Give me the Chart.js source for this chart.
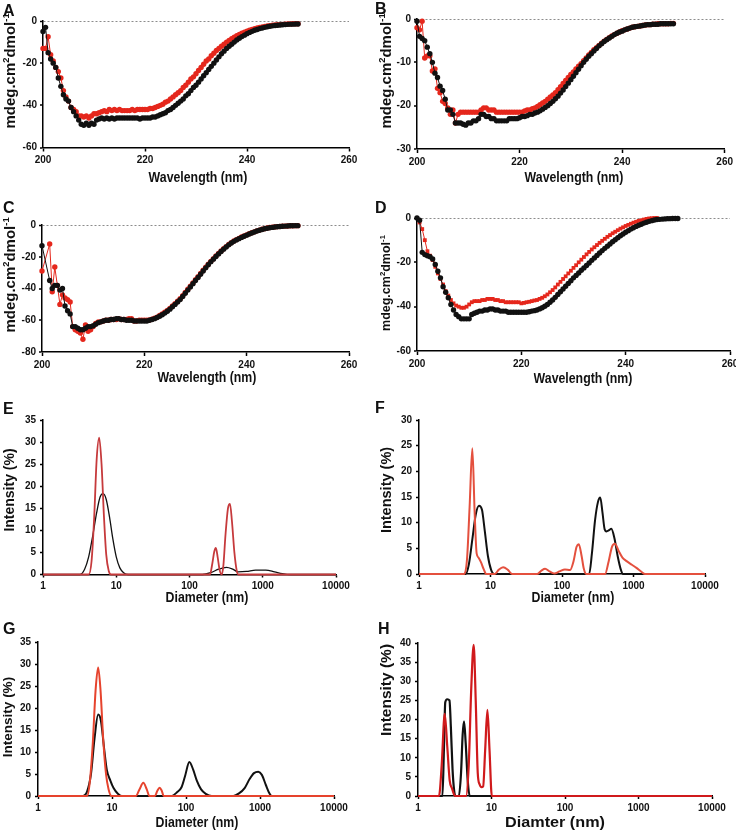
<!DOCTYPE html>
<html><head><meta charset="utf-8">
<script src="https://cdn.jsdelivr.net/npm/chart.js@4.4.1/dist/chart.umd.min.js"></script>
<style>
html,body{margin:0;padding:0;background:#fff;}
body{width:736px;height:832px;position:relative;overflow:hidden;font-family:'Liberation Sans',Arial,Helvetica,sans-serif;font-weight:bold;color:#111;}
canvas{position:absolute;}
.lbl{position:absolute;font-size:16px;line-height:16px;}
.xt{position:absolute;font-size:14px;line-height:14px;white-space:nowrap;transform:translate(-50%,-50%) scaleX(0.88);}
.yt{position:absolute;font-size:14px;line-height:14px;white-space:nowrap;transform:translate(-50%,-50%) rotate(-90deg);}
sup{font-size:0.62em;vertical-align:super;line-height:0;}
</style></head><body>
<canvas id="cA" style="left:0px;top:0px" width="368" height="205"></canvas>
<canvas id="cB" style="left:368px;top:0px" width="368" height="205"></canvas>
<canvas id="cC" style="left:0px;top:205px" width="368" height="205"></canvas>
<canvas id="cD" style="left:368px;top:205px" width="380" height="205"></canvas>
<canvas id="cE" style="left:0px;top:410px" width="368" height="210"></canvas>
<canvas id="cF" style="left:368px;top:410px" width="368" height="210"></canvas>
<canvas id="cG" style="left:0px;top:620px" width="368" height="212"></canvas>
<canvas id="cH" style="left:368px;top:620px" width="380" height="212"></canvas>

<div class="lbl" style="left:3px;top:3px">A</div>
<div class="lbl" style="left:375px;top:1px">B</div>
<div class="lbl" style="left:3px;top:200px">C</div>
<div class="lbl" style="left:375px;top:200px">D</div>
<div class="lbl" style="left:3px;top:401px">E</div>
<div class="lbl" style="left:375px;top:400px">F</div>
<div class="lbl" style="left:3px;top:621px">G</div>
<div class="lbl" style="left:378px;top:621px">H</div>

<div class="xt" style="left:198px;top:177px">Wavelength (nm)</div>
<div class="xt" style="left:574px;top:177px">Wavelength (nm)</div>
<div class="xt" style="left:207px;top:377px">Wavelength (nm)</div>
<div class="xt" style="left:583px;top:378px">Wavelength (nm)</div>
<div class="xt" style="left:207px;top:597px">Diameter (nm)</div>
<div class="xt" style="left:573px;top:597px">Diameter (nm)</div>
<div class="xt" style="left:197px;top:822px">Diameter (nm)</div>
<div class="xt" style="left:555px;top:822px;font-size:15px;transform:translate(-50%,-50%) scaleX(1.08)">Diamter (nm)</div>

<div class="yt" style="left:10px;top:71px;font-size:15px">mdeg.cm<sup>2</sup>dmol<sup>-1</sup></div>
<div class="yt" style="left:386px;top:71px;font-size:15px">mdeg.cm<sup>2</sup>dmol<sup>-1</sup></div>
<div class="yt" style="left:10px;top:275px;font-size:15px">mdeg.cm<sup>2</sup>dmol<sup>-1</sup></div>
<div class="yt" style="left:386px;top:283px;font-size:12.5px">mdeg.cm<sup>2</sup>dmol<sup>-1</sup></div>
<div class="yt" style="left:9px;top:490px;font-size:14px">Intensity (%)</div>
<div class="yt" style="left:386px;top:490px;font-size:14.5px">Intensity (%)</div>
<div class="yt" style="left:8px;top:717px;font-size:13.5px">Intensity (%)</div>
<div class="yt" style="left:386px;top:690px;font-size:15.5px">Intensity (%)</div>

<script>
// ---------- CD data (wavelength grid, nm) ----------
const wavelengths = [
200,200.5,201,201.5,202,202.5,203,203.5,204,204.5,
205,205.5,206,206.5,207,207.5,208,208.5,209,209.5,
210,210.5,211,211.5,212,212.5,213,213.5,214,214.5,
215,215.5,216,216.5,217,217.5,218,218.5,219,219.5,
220,220.5,221,221.5,222,222.5,223,223.5,224,224.5,
225,225.5,226,226.5,227,227.5,228,228.5,229,229.5,
230,230.5,231,231.5,232,232.5,233,233.5,234,234.5,
235,235.5,236,236.5,237,237.5,238,238.5,239,239.5,
240,240.5,241,241.5,242,242.5,243,243.5,244,244.5,
245,245.5,246,246.5,247,247.5,248,248.5,249,249.5,
250];
const cdXTicks = [200, 220, 240, 260];

const cdA_black = [
-5,-3,-15,-18,-20,-22,-27,-31,-35,-37,
-38,-41,-43,-45,-47,-49,-49.5,-48.5,-49.5,-48.5,
-49,-47,-46.5,-46,-46.5,-46,-46.5,-46,-46.5,-46,
-46,-46,-46,-46,-46,-46,-46,-46,-46.5,-46,
-46,-46,-46,-45.5,-45.5,-45,-44.5,-44,-43.5,-42.5,
-42,-41,-40,-39,-38,-37,-35.5,-34.5,-33,-31.5,
-30.5,-29,-27.5,-26,-24.5,-23,-21.5,-20,-18.5,-17,
-15.5,-14.3,-13,-12,-11,-10,-9,-8.2,-7.4,-6.7,
-6,-5.4,-4.9,-4.4,-4,-3.6,-3.3,-3,-2.7,-2.5,
-2.3,-2.1,-2,-1.9,-1.8,-1.7,-1.6,-1.5,-1.5,-1.4,
-1.4];
const cdA_red = [
-13,-13,-7.5,-16,-19,-22,-24,-27,-33,-36,
-38,-41,-42,-43,-45,-45,-45.5,-45,-46,-45,
-44,-44,-43.5,-43,-42.5,-43,-42,-42.5,-42,-42.5,
-42,-42.5,-42.5,-42.5,-42.5,-42,-42.5,-42,-42,-42,
-42,-42,-41.5,-41.5,-41,-40.5,-40,-39.5,-38.5,-38,
-37,-36,-35,-34,-33,-31.5,-30.5,-29,-27.5,-26.5,
-25,-23.5,-22,-20.5,-19,-18,-16.5,-15.3,-14,-13,
-12,-11,-10,-9.2,-8.4,-7.7,-7,-6.4,-5.8,-5.3,
-4.8,-4.4,-4,-3.6,-3.3,-3,-2.8,-2.6,-2.4,-2.2,
-2,-1.9,-1.8,-1.7,-1.6,-1.5,-1.4,-1.4,-1.3,-1.3,
-1.3];

const cdB_black = [
-0.5,-4,-4.5,-5,-6.5,-8,-10,-12.5,-13.5,-15.5,
-16.5,-18.5,-21,-21,-22,-24,-24,-24,-24.3,-24.5,
-24,-24,-23.5,-23.5,-23,-22,-22,-22.5,-22.5,-23,
-23,-23.5,-23.5,-23.5,-23.5,-23.5,-23,-23,-23,-23,
-22.8,-22.5,-22.5,-22.3,-22,-22,-21.7,-21.5,-21.2,-20.8,
-20.4,-20,-19.5,-19,-18.4,-17.8,-17.1,-16.4,-15.6,-14.8,
-14,-13.2,-12.4,-11.6,-10.8,-10,-9.3,-8.6,-8,-7.4,
-6.8,-6.2,-5.7,-5.2,-4.8,-4.4,-4,-3.6,-3.3,-3,
-2.8,-2.5,-2.3,-2.1,-1.9,-1.8,-1.7,-1.6,-1.5,-1.4,
-1.3,-1.3,-1.2,-1.2,-1.2,-1.1,-1.1,-1.1,-1.1,-1.1,
-1.1];
const cdB_red = [
-2,-2.5,-0.5,-9,-8.5,-8.5,-12,-11.5,-16,-17,
-19,-19.5,-20.5,-22,-21,-24,-22,-21.5,-21.5,-21.5,
-21.5,-21.5,-21.5,-21.5,-21.5,-21,-20.5,-20.5,-21,-21,
-21,-21.5,-21.5,-21.5,-21.5,-21.5,-21.5,-21.5,-21.5,-21.5,
-21.5,-21.5,-21.2,-21,-21,-20.7,-20.5,-20.2,-19.8,-19.4,
-19,-18.5,-18,-17.5,-17,-16.3,-15.6,-14.9,-14.2,-13.5,
-12.8,-12.2,-11.5,-10.9,-10.3,-9.6,-9,-8.3,-7.7,-7.1,
-6.6,-6.1,-5.6,-5.1,-4.7,-4.3,-3.9,-3.6,-3.3,-3,
-2.7,-2.5,-2.3,-2.1,-1.9,-1.8,-1.7,-1.6,-1.5,-1.4,
-1.3,-1.3,-1.2,-1.2,-1.1,-1.1,-1.1,-1.1,-1.1,-1,
-1];

const cdC_black = [
-13,null,null,-35,-40,-38,-38,-41,-40,-51,
-54,-56,-64,-64,-65,-66,-66,-65,-64,-64,
-63.5,-62.5,-61.5,-61,-60.5,-60,-60,-59.5,-59.5,-59,
-59,-59.5,-59.5,-60,-60,-60,-60.5,-60.5,-60.5,-60.5,
-60.5,-60.5,-60,-59.5,-59,-58.3,-57.5,-56.5,-55.5,-54.3,
-53,-51.5,-50,-48.5,-47,-45,-43,-41,-39,-37,
-35,-33,-31,-29,-27,-25,-23.2,-21.5,-19.8,-18.2,
-16.7,-15.2,-13.8,-12.5,-11.3,-10.3,-9.4,-8.6,-7.8,-7.1,
-6.4,-5.7,-5,-4.4,-3.8,-3.3,-2.8,-2.4,-2,-1.7,
-1.5,-1.3,-1.1,-0.9,-0.8,-0.7,-0.6,-0.5,-0.5,-0.4,
-0.4];
const cdC_red = [
-29,null,null,-12,-42,-26.5,-38,-50,-44,-46,
-47,-48.5,-64,-66,-67,-68,-72,-63,-67,-66,
-64,-62,-61,-61,-60.5,-60,-60,-59.5,-59.5,-59.5,
-59,-59.5,-59.5,-59.5,-59,-59,-60.5,-60.5,-60,-60,
-60,-60,-59.8,-59.3,-58.7,-58,-57,-56,-55,-53.8,
-52.5,-51,-49.5,-48,-46.5,-44.5,-42.5,-40.5,-38.5,-36.5,
-34.5,-32.5,-30.5,-28.5,-26.6,-24.7,-22.9,-21.2,-19.5,-17.9,
-16.4,-15,-13.6,-12.3,-11.1,-10.1,-9.2,-8.4,-7.6,-6.9,
-6.2,-5.5,-4.9,-4.3,-3.7,-3.2,-2.7,-2.3,-1.9,-1.6,
-1.4,-1.2,-1,-0.9,-0.8,-0.7,-0.6,-0.5,-0.5,-0.4,
-0.4];

const cdD_black = [
0,-1,-15.5,-16.5,-17,-17.5,-18.5,-21,-24,-27,
-31,-33.5,-36,-39,-41.5,-43.5,-44.5,-45.5,-45.5,-45.5,
-45.5,-43.5,-43,-42.5,-42,-42,-41.5,-41.5,-41,-41,
-41.5,-41.5,-42,-42,-42,-42.5,-42.5,-42.5,-42.5,-42.5,
-42.5,-42.5,-42.5,-42.3,-42,-41.8,-41.5,-41,-40.5,-39.8,
-39,-38,-37,-35.8,-34.5,-33.3,-32,-30.8,-29.5,-28.3,
-27,-25.9,-24.8,-23.6,-22.5,-21.4,-20.3,-19.1,-18,-16.9,
-15.8,-14.7,-13.7,-12.7,-11.7,-10.7,-9.8,-8.9,-8,-7.2,
-6.4,-5.7,-5,-4.4,-3.8,-3.3,-2.8,-2.3,-1.9,-1.5,
-1.2,-0.9,-0.7,-0.6,-0.5,-0.4,-0.3,-0.3,-0.2,-0.2,
-0.2];
const cdD_red = [
0,-2,-5,-10,-15,-17,-19,-22,-25,-27.5,
-30,-33,-35,-37,-38.5,-39.5,-40,-40.5,-40.5,-40,
-39,-38,-37.5,-37.5,-37.5,-37,-37,-36.5,-36.5,-36.5,
-37,-37,-37.5,-37.5,-38,-38,-38,-38,-38,-38,
-38.5,-38.3,-38,-37.8,-37.5,-37.2,-37,-36.5,-36,-35.3,
-34.5,-33.5,-32.5,-31.3,-30,-28.8,-27.5,-26.3,-25,-23.8,
-22.5,-21.3,-20,-18.8,-17.6,-16.4,-15.3,-14.2,-13.2,-12.2,
-11.2,-10.3,-9.4,-8.5,-7.7,-6.9,-6.2,-5.5,-4.8,-4.2,
-3.6,-3.1,-2.6,-2.1,-1.7,-1.3,-1,-0.7,-0.4,-0.2,
-0.1,0,0,null,null,null,null,null,null,null,
null];

// ---------- DLS data (diameter nm, intensity %) ----------
const dlsXTicks = [1, 10, 100, 1000, 10000];

const dlsE_red_size = [1,4.2,4.6,5.0,5.4,5.85,6.3,6.8,7.3,7.9,8.5,190,205,218,229,242,258,275,290,310,335,357,380,410,440,465,10000];
const dlsE_red_int  = [0,0,3,13,26,31,25,13,4.5,0.8,0,0,2.5,5.2,6,4,1,0,2,9,15,16,12,5,1,0,0];
const dlsE_black_size = [1,3.2,3.7,4.2,4.8,5.4,6.0,6.6,7.3,8.1,9.0,10.0,11.2,12.6,14.5,150,200,250,320,390,460,600,800,1100,1450,1850,2400,10000];
const dlsE_black_int  = [0,0,1.2,4,9,14,17.5,18.3,17,13,8,4,1.5,0.4,0,0,0.5,1.2,1.6,1.2,0.6,0.7,1.0,1.0,0.6,0.2,0,0];

const dlsF_red_size = [1,4.3,4.7,5.1,5.57,6.0,6.4,6.8,7.4,8.0,8.7,11.5,13,15,17.5,20,45,52,58,67,78,92,110,130,145,160,172,188,202,218,400,450,500,550,620,700,800,950,1100,1300,1450,10000];
const dlsF_red_int  = [0,0,3,13,24.5,12,4,3.2,2.2,1,0,0,0.8,1.3,0.8,0,0,0.7,1.0,0.5,0.1,0.5,0.9,0.8,2.5,5.3,5.8,3.5,1,0,0,2.5,5.3,5.9,4.5,3.2,2.5,1.8,1.2,0.4,0,0];
const dlsF_black_size = [1,4.5,5.0,5.6,6.2,6.9,7.6,8.3,9.2,10.2,11.2,240,262,290,318,343,368,395,420,450,490,540,600,660,715,10000];
const dlsF_black_int  = [0,0,2,7,11.5,13.3,12.5,8.5,3.5,0.8,0,0,4,10.5,14,14.9,12,8.7,8.3,8.5,8.8,7,3.5,1,0,0];

const dlsG_red_size = [1,4.6,5.0,5.5,6.0,6.5,7.0,7.6,8.3,9.0,9.9,21,23.5,26.5,29.5,32,38,41,44,47,50,10000];
const dlsG_red_int  = [0,0,3,12,24,29.2,24,13,5,1.5,0,0,1.5,3,1.5,0,0,1.2,1.9,1.2,0,0];
const dlsG_black_size = [1,4.0,4.6,5.2,5.8,6.5,7.1,7.8,8.5,9.5,10.5,12,13.5,64,75,87,97,111,125,140,160,185,222,436,520,620,720,830,948,1060,1200,1350,1440,10000];
const dlsG_black_int  = [0,0,1,5,13,18.5,17,11,6,3.5,1.8,0.5,0,0,0.8,2,4.5,7.7,6,3.5,1.5,0.5,0,0,0.6,1.8,3.8,5.2,5.5,4.8,2.5,0.5,0,0];

const dlsH_red_size = [1,1.93,2.1,2.31,2.5,2.7,2.9,3.2,4.5,4.9,5.3,5.72,6.1,6.5,6.9,7.3,7.7,8.2,8.8,9.4,10.1,10000];
const dlsH_red_int  = [0,0,8,21.5,13,4,2,0,0,8,28,39.5,25,6,3,2.3,2.5,12,22.5,12,0,0];
const dlsH_black_size = [1,2.15,2.25,2.35,2.5,2.68,2.8,2.95,3.1,3.22,3.6,3.85,4.05,4.23,4.45,4.75,5.05,10000];
const dlsH_black_int  = [0,0,12,24.5,25.3,25,18,7,1.5,0,0,6,16,19.5,14,4,0,0];

// ---------- helpers ----------
const FONT = "'Liberation Sans', Arial, Helvetica, sans-serif";
Chart.defaults.font.family = FONT;
Chart.defaults.font.weight = 'bold';
Chart.defaults.color = '#111';

function pts(xs, ys) {
  const out = [];
  for (let i = 0; i < xs.length; i++) {
    if (ys[i] !== null && ys[i] !== undefined) out.push({x: xs[i], y: ys[i]});
  }
  return out;
}

function axisBase(tickLen, pad) {
  return {
    border: { display: true, color: '#000', width: 1.5 },
    grid: { drawOnChartArea: false, drawTicks: true, tickLength: tickLen, tickColor: '#000', tickWidth: 1.5 },
    ticks: { font: { size: 10, weight: 'bold', family: FONT }, color: '#111', padding: pad, maxRotation: 0, autoSkip: false, callback: v => String(v) }
  };
}

function makeChart(id, box, datasets, xOpts, yOpts) {
  const cv = document.getElementById(id);
  const W = cv.width, H = cv.height;
  return new Chart(cv, {
    type: 'line',
    data: { datasets },
    options: {
      responsive: false, animation: false, devicePixelRatio: 1,
      layout: { padding: { left: 0, top: box.T, right: W - box.R, bottom: 0 } },
      plugins: { legend: { display: false }, tooltip: { enabled: false } },
      scales: {
        x: Object.assign({}, xOpts, { afterFit: s => { s.height = H - box.B; } }),
        y: Object.assign({}, yOpts, { afterFit: s => { s.width = box.L; } })
      }
    }
  });
}

const BLACK = '#111111';
const CDRED = '#e5271c';

function cdDatasets(black, red, redStyle) {
  return [
    { data: pts(wavelengths, black), borderColor: BLACK, backgroundColor: BLACK, borderWidth: 1,
      pointRadius: 2.7, pointBorderWidth: 0, pointBackgroundColor: BLACK, pointStyle: 'circle', clip: false },
    { data: pts(wavelengths, red), borderColor: CDRED, backgroundColor: CDRED, borderWidth: 1,
      pointRadius: 2.7, pointBorderWidth: 0, pointBackgroundColor: CDRED, pointStyle: redStyle, clip: false }
  ];
}

function cdX() {
  const a = axisBase(4, 3);
  return Object.assign(a, {
    type: 'linear', min: 200, max: 260,
    afterBuildTicks: s => { s.ticks = cdXTicks.map(v => ({ value: v })); }
  });
}
function cdY(minV, step) {
  const a = axisBase(3, 3);
  a.grid = {
    drawOnChartArea: true, drawTicks: true, tickLength: 3, tickColor: '#000', tickWidth: 1.5,
    color: ctx => (ctx.tick && ctx.tick.value === 0) ? '#8c8c8c' : 'rgba(0,0,0,0)',
    lineWidth: ctx => (ctx.tick && ctx.tick.value === 0) ? 1 : 0
  };
  a.border = { display: true, color: '#000', width: 1.5, dash: [2, 2] };
  return Object.assign(a, { type: 'linear', min: minV, max: 0, ticks: Object.assign(a.ticks, { stepSize: step }) });
}

function dlsDatasets(redS, redI, blackS, blackI, redColor, redW, blackW) {
  return [
    { data: pts(redS, redI), borderColor: redColor, borderWidth: redW, pointRadius: 0, cubicInterpolationMode: 'monotone', clip: false },
    { data: pts(blackS, blackI), borderColor: BLACK, borderWidth: blackW, pointRadius: 0, cubicInterpolationMode: 'monotone', clip: false }
  ];
}
function dlsX() {
  const a = axisBase(3, 3);
  return Object.assign(a, {
    type: 'logarithmic', min: 1, max: 10000,
    afterBuildTicks: s => { s.ticks = dlsXTicks.map(v => ({ value: v })); }
  });
}
function dlsY(maxV) {
  const a = axisBase(3, 4);
  return Object.assign(a, { type: 'linear', min: 0, max: maxV, ticks: Object.assign(a.ticks, { stepSize: 5 }) });
}

// ---------- charts ----------
makeChart('cA', {L: 43, T: 21, R: 349, B: 147.5}, cdDatasets(cdA_black, cdA_red, 'circle'), cdX(), cdY(-60, 20));
makeChart('cB', {L: 49, T: 19, R: 358, B: 149}, cdDatasets(cdB_black, cdB_red, 'circle'), cdX(), cdY(-30, 10));
makeChart('cC', {L: 42, T: 20, R: 349, B: 147}, cdDatasets(cdC_black, cdC_red, 'circle'), cdX(), cdY(-80, 20));
makeChart('cD', {L: 49, T: 13, R: 362, B: 146}, cdDatasets(cdD_black, cdD_red, 'rect'), cdX(), cdY(-60, 20));

makeChart('cE', {L: 43, T: 10, R: 336, B: 164.5},
  dlsDatasets(dlsE_red_size, dlsE_red_int, dlsE_black_size, dlsE_black_int, '#c63a3c', 1.8, 1.3), dlsX(), dlsY(35));
makeChart('cF', {L: 51, T: 10, R: 337, B: 164},
  dlsDatasets(dlsF_red_size, dlsF_red_int, dlsF_black_size, dlsF_black_int, '#e4503e', 2, 2), dlsX(), dlsY(30));
makeChart('cG', {L: 38, T: 22, R: 334, B: 176},
  dlsDatasets(dlsG_red_size, dlsG_red_int, dlsG_black_size, dlsG_black_int, '#e6432d', 2, 2), dlsX(), dlsY(35));
makeChart('cH', {L: 50, T: 23, R: 344, B: 176},
  dlsDatasets(dlsH_red_size, dlsH_red_int, dlsH_black_size, dlsH_black_int, '#d01a1c', 2.2, 2.2), dlsX(), dlsY(40));
</script>
</body></html>
